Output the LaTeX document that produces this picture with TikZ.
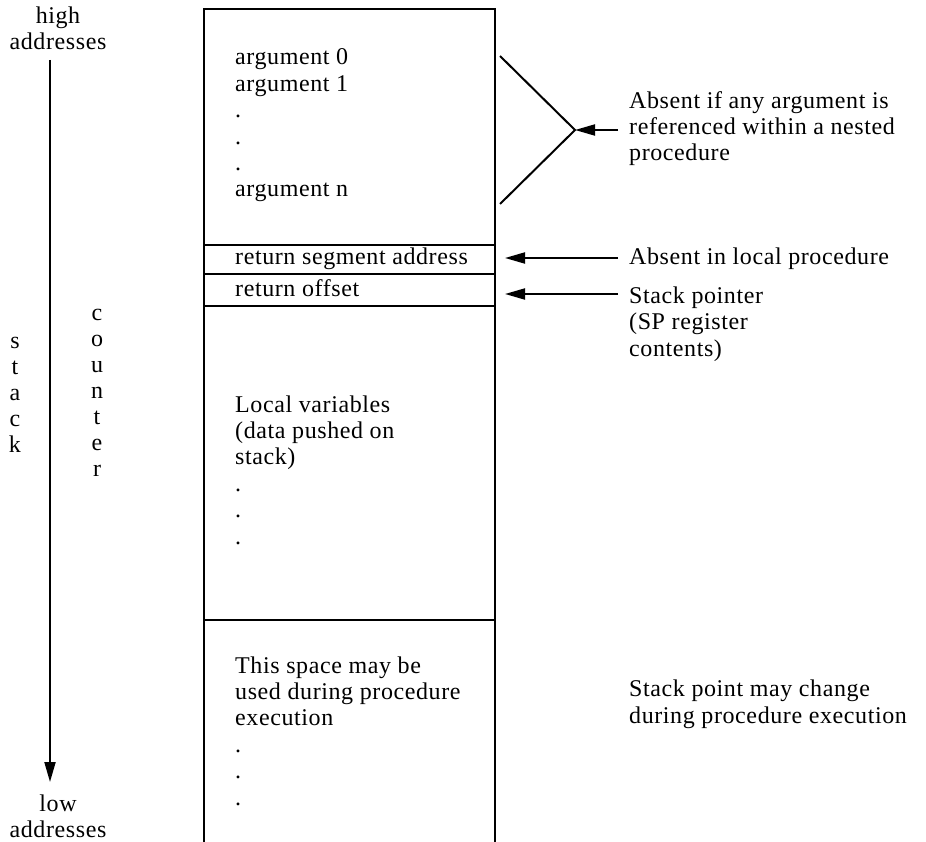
\documentclass[tikz,border=0pt]{standalone}
\usepackage{fontspec}
\setmainfont{Liberation Serif}[LetterSpace=2.5]
\usetikzlibrary{arrows.meta}

\begin{document}
\begin{tikzpicture}[x=1pt, y=-1pt,
    txt/.style={anchor=base west, inner sep=0pt, align=left, font=\fontsize{24}{26.4}\selectfont},
    ctxt/.style={anchor=base, inner sep=0pt, align=center, font=\fontsize{24}{26}\selectfont},
    framebox/.style={line width=2.8pt},
    arr/.style={line width=2pt, -{Triangle[length=20pt,width=11pt]}}]
  \useasboundingbox (0,0) rectangle (926,842);

  % Stack frame
  \draw[framebox] (204,842) -- (204,9) -- (495,9) -- (495,842);
  \draw[framebox] (204,245) -- (495,245);
  \draw[framebox] (204,274) -- (495,274);
  \draw[framebox] (204,306) -- (495,306);
  \draw[framebox] (204,620) -- (495,620);

  % Text inside the frame (placed at the baseline of the last line)
  \node[txt] (args) at (235,197) {argument 0\\argument 1\\.\\.\\.\\argument n};
  \node[txt] (segaddr) at (235,265) {return segment address};
  \node[txt] (retoff) at (235,297) {return offset};
  \node[txt] (locals) at (235,544) {Local variables\\(data pushed on\\stack)\\.\\.\\.};
  \node[txt] (space) at (235,805) {This space may be\\used during procedure\\execution\\.\\.\\.};

  % Text on the left
  \node[ctxt] (high) at (58,50) {high\\addresses};
  \node[ctxt] (low) at (58,837) {low\\addresses};
  \node[ctxt] (stk) at (15,452) {s\\t\\a\\c\\k};
  \node[ctxt] (ctr) at (97,476) {c\\o\\u\\n\\t\\e\\r};

  % Text on the right
  \node[txt] (absarg) at (629,161) {Absent if any argument is\\referenced within a nested\\procedure};
  \node[txt] (absloc) at (629,265) {Absent in local procedure};
  \node[txt] (sp) at (629,356) {Stack pointer\\(SP register\\contents)};
  \node[txt] (change) at (629,723) {Stack point may change\\during procedure execution};

  % Points
  \coordinate (atop) at (50,60);
  \coordinate (abot) at (50,782);
  \coordinate (brtop) at (500,56);
  \coordinate (brtip) at (575,130);
  \coordinate (brbot) at (500,204);
  \coordinate (segtip) at (505,258);
  \coordinate (sptip) at (505,294);

  % Connection
  \draw[arr] (atop) -- (abot);
  \draw[line width=2pt] (brtop) -- (brtip) -- (brbot);
  \draw[arr] (absarg.base west |- brtip) ++(-11,0) -- (brtip);
  \draw[arr] (absloc.base west |- segtip) ++(-11,0) -- (segtip);
  \draw[arr] (sp.base west |- sptip) ++(-11,0) -- (sptip);
\end{tikzpicture}
\end{document}
